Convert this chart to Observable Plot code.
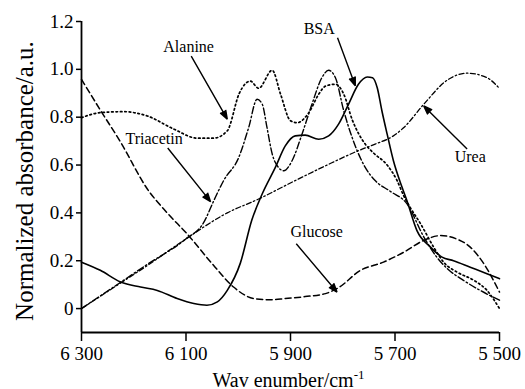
<!DOCTYPE html>
<html><head><meta charset="utf-8">
<script src="https://cdn.jsdelivr.net/npm/d3@7"></script>
<script src="https://cdn.jsdelivr.net/npm/@observablehq/plot@0.6"></script>
<style>body{margin:0;background:#fff;} svg{display:block;}</style>
</head><body>
<script>
// ---- data (wavenumber in cm-1, normalized absorbance) ----
const bsaWn  = [6300,6264,6225,6187,6155,6117,6085,6060,6040,6021,5996,5974,5954,5929,5910,5891,5872,5846,5827,5808,5789,5770,5753,5743,5734,5725,5715,5703,5687,5677,5658,5632,5610,5588,5556,5524,5500];
const bsaAbs = [0.194,0.16,0.111,0.09,0.076,0.042,0.021,0.014,0.028,0.076,0.19,0.37,0.48,0.59,0.68,0.722,0.725,0.708,0.722,0.771,0.854,0.9375,0.968,0.965,0.923,0.826,0.729,0.618,0.51,0.45,0.326,0.257,0.215,0.2,0.173,0.146,0.125];

const alanineWn  = [6300,6264,6219,6174,6123,6079,6047,6021,5998,5977,5961,5935,5919,5900,5887,5865,5846,5833,5814,5798,5782,5757,5741,5715,5696,5683,5671,5651,5626,5607,5581,5549,5524,5500];
const alanineAbs = [0.798,0.819,0.823,0.805,0.75,0.7125,0.7125,0.743,0.9,0.951,0.921,0.996,0.896,0.785,0.777,0.819,0.896,0.93,0.9375,0.896,0.79,0.6875,0.65,0.6,0.535,0.47,0.423,0.354,0.257,0.194,0.152,0.118,0.076,0.0];

const triacetinWn  = [6300,6264,6225,6174,6101,6066,6047,6028,5999,5980,5964,5954,5945,5935,5923,5913,5897,5878,5859,5840,5827,5814,5798,5782,5757,5738,5709,5677,5645,5620,5600,5569,5537,5500];
const triacetinAbs = [0,0.053,0.11,0.185,0.29,0.36,0.45,0.535,0.632,0.757,0.875,0.854,0.757,0.646,0.59,0.576,0.618,0.729,0.854,0.965,0.996,0.965,0.826,0.715,0.59,0.535,0.49,0.4375,0.3,0.215,0.167,0.118,0.076,0.035];

const ureaWn  = [6300,6237,6174,6101,6021,5961,5891,5830,5770,5738,5703,5683,5645,5600,5562,5524,5500];
const ureaAbs = [0,0.09,0.18,0.29,0.4,0.458,0.535,0.6,0.66,0.6875,0.722,0.757,0.854,0.955,0.984,0.965,0.92];

const glucoseWn  = [6300,6264,6225,6174,6136,6098,6047,6009,5970,5938,5910,5872,5833,5808,5766,5722,5683,5645,5613,5581,5556,5530,5500];
const glucoseAbs = [0.958,0.83,0.695,0.5,0.4,0.3125,0.18,0.09,0.042,0.037,0.042,0.05,0.0625,0.0875,0.16,0.194,0.236,0.285,0.305,0.29,0.257,0.1875,0.069];

// annotations
const labelNames = ["Alanine","BSA","Triacetin","Urea","Glucose"];
const labelWn    = [6095,5845,6161,5556,5850];
const labelAbs   = [1.072,1.147,0.69,0.611,0.301];
const arrowFromWn  = [6090,5810,6135,5562,5889];
const arrowFromAbs = [1.055,1.132,0.671,0.667,0.271];
const arrowToWn    = [6021,5776,6053,5645,5811];
const arrowToAbs   = [0.792,0.931,0.447,0.847,0.069];

const xTicks = [6300,6100,5900,5700,5500];
const yTicks = [0,0.2,0.4,0.6,0.8,1.0,1.2];

// ---- build ----
const serif = "'Liberation Serif', 'Times New Roman', serif";
const toRows = (wn, abs) => wn.map((w, i) => ({wn: w, abs: abs[i]}));
const series = [
  {rows: toRows(bsaWn, bsaAbs), dash: null, sw: 1.6},
  {rows: toRows(alanineWn, alanineAbs), dash: "1.6,2.8", sw: 1.7},
  {rows: toRows(triacetinWn, triacetinAbs), dash: "7,2.5,1.5,2.5", sw: 1.4},
  {rows: toRows(ureaWn, ureaAbs), dash: "5,2.5,1.5,2.5", sw: 1.3},
  {rows: toRows(glucoseWn, glucoseAbs), dash: "6,3.5", sw: 1.5}
];
const labels = labelNames.map((n, i) => ({name: n, wn: labelWn[i], abs: labelAbs[i]}));
const arrows = labelNames.map((n, i) => ({x1: arrowFromWn[i], y1: arrowFromAbs[i], x2: arrowToWn[i], y2: arrowToAbs[i]}));

const plot = Plot.plot({
  width: 525,
  height: 389,
  marginLeft: 81,
  marginRight: 26,
  marginTop: 21,
  marginBottom: 57,
  style: {fontFamily: serif, fontSize: "19px", color: "#000", background: "#fff"},
  x: {domain: [6300, 5500]},
  y: {domain: [-0.1, 1.2]},
  marks: [
    Plot.axisY({ticks: yTicks, tickSize: 5, tickPadding: 3, strokeWidth: 1.5,
      tickFormat: d => d === 0 ? "0" : d.toFixed(1), label: null, fontSize: 19, fontFamily: serif}),
    Plot.axisX({ticks: xTicks, tickSize: 9, tickPadding: 5, strokeWidth: 1.5,
      tickFormat: d => d3.format(",")(d).replace(",", " "), label: null, fontSize: 19, fontFamily: serif}),
    Plot.ruleX([6300], {stroke: "#000", strokeWidth: 1.8}),
    Plot.ruleY([-0.1], {stroke: "#000", strokeWidth: 1.8}),
    ...series.map(s => Plot.line(s.rows, {x: "wn", y: "abs", curve: "monotone-x", stroke: "#000",
      strokeWidth: s.sw, strokeDasharray: s.dash ?? undefined})),
    Plot.arrow(arrows, {x1: "x1", y1: "y1", x2: "x2", y2: "y2", stroke: "#000", fill: "#000",
      strokeWidth: 1.4, headLength: 10, headAngle: 40, strokeLinecap: "butt"}),
    Plot.text(labels, {x: "wn", y: "abs", text: "name", fontSize: 16, lineAnchor: "bottom", fill: "#000", fontFamily: serif}),
    Plot.text(["Normalized absorbance/a.u."], {text: d => d, frameAnchor: "left", rotate: -90,
      dx: -49, dy: 4, lineAnchor: "bottom", textAnchor: "middle", fontSize: 25, fill: "#000", fontFamily: serif}),
    Plot.text(["Wav enumber/cm"], {text: d => d, frameAnchor: "bottom",
      dx: -2, dy: 54, lineAnchor: "bottom", textAnchor: "middle", fontSize: 20, fill: "#000", fontFamily: serif})
  ]
});
document.body.appendChild(plot);
// superscript -1 on the x title
d3.select(plot).selectAll("text").filter(function() { return this.textContent === "Wav enumber/cm"; })
  .append("tspan").attr("dy", "-0.55em").attr("font-size", 13).text("-1");
</script>
</body></html>
